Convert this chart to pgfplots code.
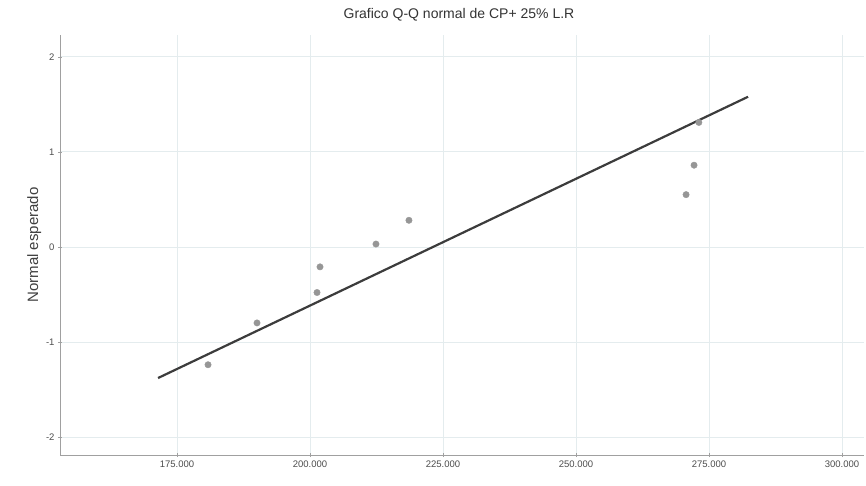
\documentclass[border=0pt]{standalone}
\usepackage{pgfplots}
\pgfplotsset{compat=1.18}
\usepackage{fontspec}
\setmainfont{Liberation Sans}

\definecolor{gridc}{RGB}{228,236,238}
\definecolor{axisc}{RGB}{160,160,160}
\definecolor{ptc}{RGB}{150,150,150}
\definecolor{linec}{RGB}{60,60,60}

\begin{document}
\begin{tikzpicture}[x=1pt,y=1pt]
	\useasboundingbox (0,0) rectangle (866,485);
	\begin{axis}[
		at={(60pt,30pt)}, anchor=south west,
		scale only axis,
		width=804pt, height=420pt,
		xmin=153000, xmax=304150,
		ymin=-2.19, ymax=2.23,
		axis lines=left,
		axis line style={axisc, -},
		xtick={175000,200000,225000,250000,275000,300000},
		xticklabels={175.000,200.000,225.000,250.000,275.000,300.000},
		ytick={-2,-1,0,1,2},
		yticklabels={-2,-1,0,1,2},
		scaled x ticks=false,
		tick style={axisc},
		major tick length=4pt,
		tick label style={font=\fontsize{9.5}{11}\selectfont, text=black!70},
		/pgf/number format/assume math mode=true,
		grid=major,
		grid style={gridc, line width=0.8pt},
		title={Grafico Q-Q normal de CP+ 25\% L.R},
		title style={font=\fontsize{14}{16}\selectfont, text=black!80, at={(0.5,1)}, anchor=south, yshift=4pt, xshift=-3pt},
		ylabel={Normal esperado},
		ylabel style={font=\fontsize{15}{17}\selectfont, text=black!75, yshift=-2pt},
	]
	% reference line
	\addplot[linec, line width=2.2pt] coordinates {(171430,-1.38) (282350,1.58)};
	% observed points
	\addplot[only marks, mark=*, mark size=3.2pt, color=ptc] coordinates {
		(180830,-1.24)
		(190040,-0.80)
		(201320,-0.48)
		(201880,-0.21)
		(212400,0.03)
		(218600,0.28)
		(270700,0.55)
		(272200,0.86)
		(273100,1.31)
	};
	\end{axis}
\end{tikzpicture}
\end{document}
